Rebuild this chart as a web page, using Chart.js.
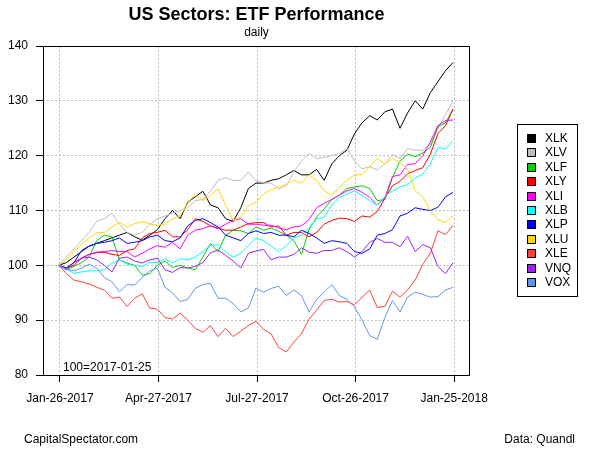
<!DOCTYPE html>
<html>
<head>
<meta charset="utf-8">
<script src="https://cdn.jsdelivr.net/npm/chart.js@4.4.1/dist/chart.umd.min.js"></script>
<style>
  html, body { margin: 0; padding: 0; background: #fff; }
</style>
</head>
<body>
<canvas id="sectorChart" width="600" height="450"></canvas>
<script>
// x axis: days since 2017-01-25, one point per week
const tickDays = [1, 92, 183, 274, 365];
const tickLabels = ['Jan-26-2017', 'Apr-27-2017', 'Jul-27-2017', 'Oct-26-2017', 'Jan-25-2018'];
const yTicks = [80, 90, 100, 110, 120, 130, 140];

const tickers = ['XLK', 'XLV', 'XLF', 'XLY', 'XLI', 'XLB', 'XLP', 'XLU', 'XLE', 'VNQ', 'VOX'];
const colors = ['#000000', '#BEBEBE', '#00CD00', '#FF0000', '#FF00FF', '#00FFFF',
                '#0000FF', '#FFD700', '#FF4040', '#A020F0', '#6495ED'];

// weekly index values (100 = 2017-01-25)
const xlk = [100, 100.5, 101.5, 102.5, 103.5, 104, 104.5, 105, 105.5, 106, 105.2, 104.6, 105.5, 106.5, 108.5, 110, 108.5, 111.5, 112.5, 113.5, 111, 110.5, 108.5, 108, 110.5, 114, 115, 115, 115.5, 115.8, 116.5, 117.3, 116.5, 116.5, 117.5, 115.5, 118.5, 120, 121, 124, 126, 127.3, 126.5, 128, 128.5, 125, 127.8, 130, 128.5, 131.5, 133.5, 135.5, 137];
const xlv = [100, 101.5, 103, 104.5, 106, 108, 108.5, 109.5, 107.5, 106, 105.5, 106, 107.5, 108.5, 109, 109.5, 110, 110.5, 111.8, 112, 113.5, 115.5, 116, 115.5, 115.5, 117, 115.5, 115, 115, 114, 114.5, 117, 119, 120.4, 119.5, 119.7, 120, 120.4, 121.3, 119, 117.6, 118, 117.4, 118.5, 120.2, 119.5, 121.3, 121, 121, 122, 125, 127.5, 130];
const xlf = [100, 99.2, 99.8, 100.5, 101.5, 104.5, 105.5, 105.2, 101, 100.4, 100, 98.2, 98.5, 100, 100.8, 99.6, 100, 99.5, 99.2, 101.5, 104, 102.5, 105.5, 106.4, 106.3, 105.8, 107, 106.4, 106.8, 106.2, 105.5, 104.5, 102, 106.5, 108.8, 110.3, 112, 112.8, 114, 114.3, 114.5, 114, 111.8, 112, 116, 119, 120.3, 119.8, 120.5, 121.5, 125.3, 126, 128.5];
const xly = [100, 99.5, 100, 101.3, 102, 102.3, 102.4, 102, 101.8, 102.7, 103, 105, 105.8, 106, 106.4, 105.2, 105.2, 106.5, 108.5, 108, 107.2, 106.8, 106.4, 106.4, 107, 107.6, 107.8, 107.8, 107, 107.2, 105.5, 106, 106, 105.2, 106, 107.5, 108.2, 108.6, 108.5, 108, 109, 108.8, 109.8, 112.2, 114.5, 115.3, 116.7, 117.3, 117.8, 120.3, 124, 125.5, 128.5];
const xli = [100, 99.5, 100.5, 101.3, 102, 102.4, 102.5, 102.7, 102.5, 102.5, 101.5, 102.2, 103, 103.6, 103.3, 104.2, 103, 105.5, 106.4, 106.7, 107.2, 106.7, 107.5, 108.2, 108.5, 107.5, 107.5, 107.3, 107.3, 106.8, 106.5, 107, 107.2, 108.3, 110.5, 111.3, 112, 112.8, 113.6, 114, 113.3, 112.4, 111, 112.3, 116.2, 116.5, 118.4, 118.5, 120, 122.5, 125.5, 126.4, 126.5];
const xlb = [100, 99.3, 98.5, 98.8, 99, 99, 99.2, 100.4, 101, 100.2, 100, 99.8, 100.5, 100.5, 101.2, 100.4, 101.2, 101, 101.5, 102.5, 103.6, 103.8, 102.4, 101.5, 102.2, 103.6, 105, 104.5, 103.5, 102.5, 103.6, 105, 105.5, 106.8, 108.5, 108.7, 111, 112.4, 113, 113.6, 112.7, 111.8, 111, 112.6, 113.6, 114.3, 114.7, 116, 116.6, 118.5, 121.5, 121.2, 122.7];
const xlp = [100, 99.5, 100.5, 102.7, 103.5, 104, 104.2, 104.5, 105, 104, 104.2, 104.5, 105.2, 105.5, 104.5, 104.3, 105, 107.2, 108.2, 108.5, 107.8, 107, 105.5, 105, 104.5, 105.8, 106.3, 105.8, 106, 105.5, 105.5, 105.2, 106.4, 105.8, 105, 104, 104.5, 104.3, 104, 102.5, 102.2, 103, 105.5, 105.8, 106.5, 109, 109.5, 110.5, 110.2, 110, 110.6, 112.5, 113.3];
const xlu = [100, 101, 102.5, 103.8, 105, 106, 106, 107, 107.8, 107, 107.6, 108, 107.5, 107.3, 107.5, 108.5, 109, 111.3, 113, 111.8, 112.7, 114, 111, 108.2, 108.8, 110.8, 111.5, 113, 113.8, 114.3, 114.8, 115.5, 115, 116.5, 115.5, 113.6, 112.8, 114.2, 115.5, 116.5, 116.5, 118, 119.5, 118.5, 119.5, 118.7, 117.5, 113.6, 112.5, 110, 108.3, 107.8, 109];
const xle = [100, 98.5, 97.3, 97, 96.6, 96, 95.5, 94, 94.2, 92.5, 94, 94.8, 92.2, 92, 90.5, 90.2, 91.3, 90, 88.5, 87.8, 89, 87, 88.5, 87, 88, 89, 89.8, 88.3, 87.5, 85, 84.2, 86, 87.5, 90.2, 91.8, 93.6, 93.8, 93.3, 93.4, 92.8, 94.2, 95.5, 92.3, 92.5, 95.3, 94.2, 95.5, 97.3, 100.2, 102.2, 106.3, 105.6, 107.3];
const vnq = [100, 99.2, 100.5, 101.3, 101.5, 101, 100, 98.8, 101.3, 101.5, 100.8, 100.4, 101, 101.3, 99.2, 98.7, 99.6, 99.5, 99.8, 100.5, 102.3, 102.8, 101.8, 100.8, 99.5, 102.2, 102.6, 102.9, 101, 101.5, 101.5, 102, 103.2, 102.4, 102.2, 102.7, 102.7, 103.2, 102.5, 101.5, 102.5, 104.2, 104.9, 104.2, 104.2, 103.4, 105.3, 102.5, 103.8, 103.2, 99.8, 98.5, 100.5];
const vox = [100, 99.3, 99, 99.5, 100.2, 99.5, 97.8, 97, 95.2, 96.5, 96.4, 97.8, 99, 99.5, 96, 95, 93.4, 93.8, 95.8, 96.5, 96.7, 94, 94, 93, 91.5, 92.2, 95.8, 95.1, 95.8, 96.2, 94.5, 95.5, 94.5, 91.5, 93.8, 95.1, 96.5, 94.5, 93.8, 92.4, 90, 87.2, 86.5, 90.5, 93.6, 91.5, 94.2, 95.1, 94.7, 94.2, 94.3, 95.5, 96];

const series = [xlk, xlv, xlf, xly, xli, xlb, xlp, xlu, xle, vnq, vox];
const FONT = '"Liberation Sans", Arial, sans-serif';

const datasets = series.map((vals, i) => ({
    label: tickers[i],
    data: vals.map((v, k) => ({ x: k * 7, y: v })),
    borderColor: colors[i],
    borderWidth: 1,
    pointRadius: 0,
    tension: 0,
    fill: false,
    order: series.length - i
}));

// box, titles, legend and captions
const decorations = {
    id: 'decorations',
    afterDraw(chart) {
        const ctx = chart.ctx;
        const a = chart.chartArea;
        ctx.save();
        ctx.strokeStyle = '#000';
        ctx.lineWidth = 1;
        ctx.strokeRect(a.left + 0.5, a.top + 0.5, a.right - a.left - 1, a.bottom - a.top);

        ctx.fillStyle = '#000';
        ctx.textAlign = 'center';
        ctx.textBaseline = 'middle';
        ctx.font = 'bold 18px ' + FONT;
        ctx.fillText('US Sectors: ETF Performance', (a.left + a.right) / 2, 15);
        ctx.font = '12px ' + FONT;
        ctx.fillText('daily', (a.left + a.right) / 2, 33);

        ctx.textAlign = 'left';
        ctx.fillText('100=2017-01-25', 63, 368);
        ctx.fillText('CapitalSpectator.com', 24, 440);
        ctx.textAlign = 'right';
        ctx.fillText('Data: Quandl', 575, 440);

        // legend
        ctx.strokeRect(517.5, 124.5, 60, 172);
        ctx.textAlign = 'left';
        tickers.forEach((t, i) => {
            const y = Math.round(139 + i * 14.4);
            ctx.fillStyle = colors[i];
            ctx.fillRect(527, y - 5, 8, 8);
            ctx.strokeRect(527.5, y - 4.5, 8, 8);
            ctx.fillStyle = '#000';
            ctx.fillText(t, 545, y);
        });
        ctx.restore();
    }
};

const ctx = document.getElementById('sectorChart').getContext('2d');
const sectorChart = new Chart(ctx, {
    type: 'line',
    data: { datasets: datasets },
    options: {
        responsive: false,
        animation: false,
        layout: { padding: { top: 46, right: 130, left: 0, bottom: 0 } },
        plugins: {
            legend: { display: false },
            tooltip: { enabled: false }
        },
        scales: {
            x: {
                type: 'linear',
                min: -14.6,
                max: 379.6,
                afterFit(s) { s.height = 75; },
                afterBuildTicks(s) { s.ticks = tickDays.map(v => ({ value: v })); },
                ticks: {
                    autoSkip: false,
                    maxRotation: 0,
                    padding: 9,
                    color: '#000',
                    font: { family: FONT, size: 12 },
                    callback: v => tickLabels[tickDays.indexOf(v)]
                },
                grid: { color: '#BEBEBE', tickColor: '#000', tickLength: 7, tickWidth: 1 },
                border: { display: false, dash: [2, 2] }
            },
            y: {
                min: 80,
                max: 140,
                afterFit(s) { s.width = 43; },
                afterBuildTicks(s) { s.ticks = yTicks.map(v => ({ value: v })); },
                ticks: {
                    padding: 8,
                    color: '#000',
                    font: { family: FONT, size: 12 }
                },
                grid: { color: '#BEBEBE', tickColor: '#000', tickLength: 7, tickWidth: 1 },
                border: { display: false, dash: [2, 2] }
            }
        }
    },
    plugins: [decorations]
});
</script>
</body>
</html>
